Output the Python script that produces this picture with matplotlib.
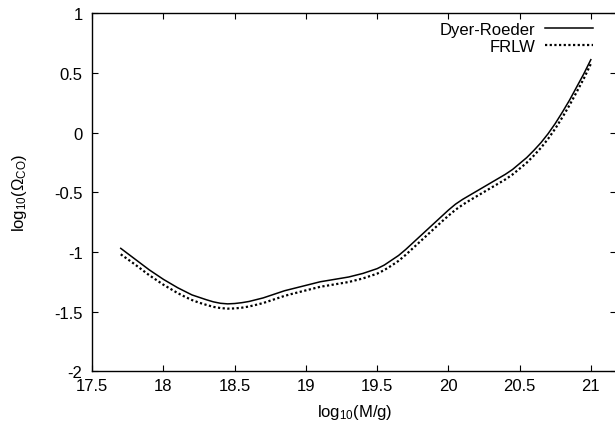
import matplotlib
matplotlib.use("Agg")
import matplotlib.pyplot as plt

plt.rcParams['font.family'] = ['Liberation Sans', 'DejaVu Sans']
plt.rcParams['mathtext.fontset'] = 'custom'
plt.rcParams['mathtext.rm'] = 'Liberation Sans'
plt.rcParams['mathtext.it'] = 'Liberation Sans'

# log10(M/g)
mass = [17.70, 17.75, 17.80, 17.85, 17.90, 17.95, 18.00, 18.05, 18.10, 18.15,
        18.20, 18.25, 18.30, 18.35, 18.40, 18.45, 18.50, 18.55, 18.60, 18.65,
        18.70, 18.75, 18.80, 18.85, 18.90, 18.95, 19.00, 19.05, 19.10, 19.15,
        19.20, 19.25, 19.30, 19.35, 19.40, 19.45, 19.50, 19.55, 19.60, 19.65,
        19.70, 19.75, 19.80, 19.85, 19.90, 19.95, 20.00, 20.05, 20.10, 20.15,
        20.20, 20.25, 20.30, 20.35, 20.40, 20.45, 20.50, 20.55, 20.60, 20.65,
        20.70, 20.75, 20.80, 20.85, 20.90, 20.95, 21.00]

# log10(Omega_CO), Dyer-Roeder
dyer_roeder = [-0.970, -1.015, -1.060, -1.105, -1.150, -1.190, -1.230, -1.265, -1.300, -1.330,
               -1.360, -1.380, -1.400, -1.418, -1.430, -1.435, -1.432, -1.425, -1.415, -1.400,
               -1.385, -1.365, -1.345, -1.325, -1.310, -1.295, -1.280, -1.265, -1.250, -1.240,
               -1.230, -1.220, -1.210, -1.195, -1.180, -1.160, -1.140, -1.110, -1.070, -1.030,
               -0.980, -0.925, -0.870, -0.815, -0.760, -0.705, -0.650, -0.600, -0.560, -0.525,
               -0.490, -0.455, -0.420, -0.385, -0.350, -0.310, -0.260, -0.210, -0.150, -0.085,
               -0.010, 0.075, 0.170, 0.270, 0.380, 0.490, 0.610]

# log10(Omega_CO), FRLW
frlw = [-1.020, -1.062, -1.105, -1.150, -1.195, -1.235, -1.275, -1.310, -1.345, -1.375,
        -1.403, -1.425, -1.443, -1.460, -1.470, -1.475, -1.473, -1.467, -1.457, -1.443,
        -1.428, -1.408, -1.388, -1.368, -1.352, -1.337, -1.322, -1.307, -1.292, -1.282,
        -1.272, -1.262, -1.252, -1.237, -1.222, -1.202, -1.182, -1.152, -1.115, -1.075,
        -1.025, -0.970, -0.915, -0.860, -0.805, -0.750, -0.697, -0.647, -0.605, -0.568,
        -0.533, -0.498, -0.463, -0.428, -0.393, -0.352, -0.303, -0.253, -0.193, -0.128,
        -0.053, 0.032, 0.127, 0.228, 0.338, 0.450, 0.575]

xticks = [17.5, 18, 18.5, 19, 19.5, 20, 20.5, 21]
xticklabels = ['17.5', '18', '18.5', '19', '19.5', '20', '20.5', '21']
yticks = [-2, -1.5, -1, -0.5, 0, 0.5, 1]
yticklabels = ['-2', '-1.5', '-1', '-0.5', '0', '0.5', '1']

fig = plt.figure(figsize=(6.15, 4.27), dpi=100)
# right frame sits just past the image edge, as in the original
ax = fig.add_axes([0.150, 0.128, 0.8524, 0.839])

ax.plot(mass, dyer_roeder, color='black', lw=1.1, label='Dyer-Roeder')
ax.plot(mass, frlw, color='black', lw=1.6, linestyle=(0, (1, 1.1)), label='FRLW')

ax.set_xlim(17.5, 21.18)
ax.set_ylim(-2, 1)
ax.set_xticks(xticks)
ax.set_xticklabels(xticklabels)
ax.set_yticks(yticks)
ax.set_yticklabels(yticklabels)
ax.tick_params(direction='in', length=4, width=0.8, top=True, right=True,
               labelsize=12)
ax.tick_params(axis='x', pad=5)
ax.tick_params(axis='y', pad=7)
for s in ax.spines.values():
    s.set_linewidth(1.0)

ax.set_xlabel(r'log$_{10}$(M/g)', fontsize=12, labelpad=6)
ax.set_ylabel(r'log$_{10}$($\Omega_{\rm CO}$)', fontsize=12, labelpad=18)

ax.legend(loc='upper right', bbox_to_anchor=(593 / 615, 1 - 23 / 427),
          bbox_transform=fig.transFigure, frameon=False, markerfirst=False,
          fontsize=12, handlelength=2.9, handletextpad=0.55, labelspacing=0.1,
          borderpad=0, borderaxespad=0)

fig.savefig('out.png', dpi=100)
